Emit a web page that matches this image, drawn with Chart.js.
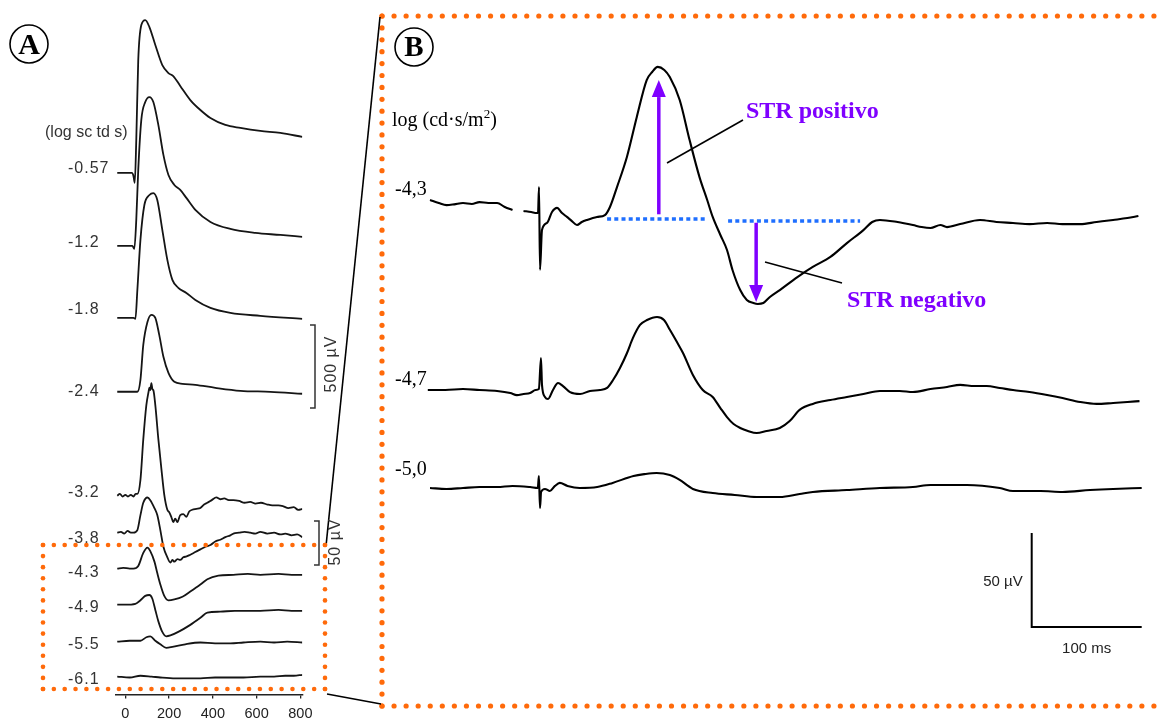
<!DOCTYPE html>
<html><head><meta charset="utf-8">
<script src="https://cdn.jsdelivr.net/npm/chart.js@4.4.1/dist/chart.umd.min.js"></script>
<style>
html,body{margin:0;padding:0;background:#fff;overflow:hidden;width:1161px;height:722px}
#wrapB{position:absolute;left:0;top:0;width:1161px;height:722px}
#wrapA{position:absolute;left:0;top:0;width:380px;height:730px}
canvas{display:block}
</style></head><body>
<div id="wrapB"><canvas id="cB" width="1161" height="722"></canvas></div>
<div id="wrapA"><canvas id="cA" width="380" height="730"></canvas></div>
<script>
// ---------------- DATA ----------------
// Panel A: ERG traces, time (ms) vs amplitude (µV); flash strengths in log sc td s
const levelsA = ['-0.57','-1.2','-1.8','-2.4','-3.2','-3.8','-4.3','-4.9','-5.5','-6.1'];
const ticksA = [0,200,400,600,800];
const trA_057 = [[-37,0],[30,0],[37,-18],[43,-60],[50,199],[59,680],[73,891],[91,921],[110,879],[137,771],[169,650],[197,602],[219,584],[251,524],[297,439],[343,379],[389,331],[457,289],[526,271],[617,253],[709,241],[809,217]];
const trA_12 = [[-37,0],[32,0],[41,-18],[50,157],[59,458],[73,759],[91,867],[110,897],[128,867],[151,728],[174,548],[197,427],[224,367],[251,337],[279,289],[320,217],[389,144],[480,102],[594,78],[709,66],[809,54]];
const trA_18 = [[-37,0],[37,0],[46,-6],[55,169],[69,470],[87,680],[110,740],[128,752],[146,710],[169,530],[192,349],[215,229],[242,181],[279,150],[320,108],[389,60],[480,30],[617,12],[809,-6]];
const trA_24 = [[-37,0],[55,0],[69,72],[82,283],[101,421],[119,464],[137,446],[155,343],[174,211],[197,114],[224,60],[261,48],[320,42],[411,24],[526,6],[663,0],[809,-12]];
const trA_32 = [[-37,0],[-25,2],[-12,-1],[0,1],[12,-1],[25,1],[37,-1],[47,2],[55,2],[69,18],[82,64],[96,103],[106,118],[110,123],[114,120],[119,128],[124,121],[128,120],[137,103],[151,64],[165,30],[178,1],[192,-16],[201,-19],[210,-24],[219,-30],[228,-26],[238,-30],[251,-22],[265,-21],[279,-24],[292,-18],[306,-16],[325,-15],[343,-14],[360,-10],[375,-8],[395,-5],[416,-2],[434,-4],[452,-3],[473,-5],[494,-5],[520,-6],[545,-8],[571,-7],[595,-9],[620,-8],[649,-10],[672,-11],[700,-11],[722,-12],[745,-14],[770,-13],[790,-16],[809,-15]];
const trA_38 = [[-37,0],[-20,1],[-5,-1],[10,2],[25,0],[37,0],[55,3],[69,20],[82,34],[101,40],[114,37],[133,28],[146,20],[160,3],[174,-16],[192,-28],[206,-34],[215,-31],[224,-33],[238,-30],[251,-31],[265,-28],[280,-27],[297,-25],[320,-22],[343,-19],[366,-16],[389,-14],[411,-10],[434,-8],[457,-5],[480,-3],[494,-1],[520,0],[545,1],[571,0],[594,-1],[617,1],[649,-1],[680,0],[709,-2],[731,-1],[760,-3],[785,-2],[809,-5]];
const trA_43 = [[-37,0],[-10,1],[20,0],[37,0],[59,3],[82,18],[101,24],[114,20],[133,8],[146,-5],[160,-18],[178,-31],[197,-36],[224,-35],[261,-32],[297,-26],[343,-18],[375,-12],[425,-8],[494,-7],[560,-6],[617,-7],[700,-6],[760,-7],[809,-7]];
const trA_49 = [[-37,0],[0,0],[46,1],[69,5],[91,10],[110,11],[123,7],[137,-6],[151,-19],[169,-31],[187,-36],[206,-35],[242,-31],[297,-23],[343,-15],[375,-9],[434,-8],[500,-7],[560,-7],[617,-7],[700,-6],[760,-7],[809,-7]];
const trA_55 = [[-37,0],[20,1],[69,1],[96,5],[114,6],[137,1],[160,-3],[187,-7],[215,-6],[274,-3],[343,-1],[410,-2],[480,-2],[540,-1],[617,0],[680,-1],[740,0],[809,-1]];
const trA_61 = [[-37,0],[20,-1],[69,1],[120,0],[160,-1],[229,-2],[290,-2],[343,-2],[410,-1],[480,-1],[540,-1],[617,0],[680,0],[731,1],[770,1],[809,2]];
const tracesA = [trA_057,trA_12,trA_18,trA_24,trA_32,trA_38,trA_43,trA_49,trA_55,trA_61];

// Panel B: three dimmest flashes, log (cd·s/m²), time (ms) vs amplitude (µV)
const levelsB = ['-4,3','-4,7','-5,0'];
const trB_43 = [[-100,10.1],[-92,8.5],[-85,7.4],[-78,7.8],[-70,8.5],[-62,8.0],[-55,9.0],[-47,8.5],[-39,8.5],[-32,6.4],[-25,4.8],[-20,null],[-15,4.3],[-8,3.7],[-3,3.2],[-1.8,3.2],[-0.9,17],[0,-27],[1.8,-5.9],[6.4,-2.1],[10.9,3.7],[15.5,5.9],[20,3.2],[24.5,1.1],[29,-1.1],[33.6,-3.2],[38,-1.6],[42.7,-0.5],[51.8,1.1],[59,2.1],[63.6,6.4],[70,17],[79,33],[88,54.3],[97,73.9],[102,78.2],[107,80.9],[113,79.3],[118,75.5],[127,63.3],[136,42],[145,22.3],[152,10.1],[157,1.1],[164,-8.5],[170,-16.5],[175,-27.1],[182,-37.8],[188,-43.1],[194,-44.7],[198,-45.2],[203,-44.7],[209,-41.5],[218,-37.8],[234,-30.9],[248,-25.5],[264,-20.2],[279,-12.8],[294,-5.9],[302,-1.6],[309,-0.5],[325,-1.6],[339,-3.2],[347,-4.3],[355,-4.8],[364,-3.2],[370,-4.3],[382,-2.7],[400,-0.5],[415,-1.6],[430,-2.1],[445,-2.7],[461,-2.1],[475,-2.7],[491,-2.7],[506,-1.6],[521,-0.5],[534,0.5],[544,1.6]];
const trB_47 = [[-102,0],[-86,0],[-70,0.5],[-55,0],[-39,-0.5],[-27,-1.6],[-21,-2.7],[-15,-2.1],[-9,-1.6],[-4,0],[-1,0.5],[0.9,17],[1.8,2.7],[4.5,-3.7],[7.3,-4.8],[11.8,0],[16.4,3.7],[20.9,2.1],[27.3,-1.1],[36.4,-2.1],[45.5,-0.5],[54.5,0],[61,1.1],[66.4,5.3],[72.7,11.7],[79.1,19.7],[84.5,27.7],[90.9,34.6],[97.3,37.2],[106.4,38.8],[112.7,37.2],[118.2,31.9],[124.5,25.5],[130,19.7],[139,8.0],[148,0],[157,-3.7],[164,-9.6],[170,-14.4],[176,-18.1],[182,-20.2],[189,-21.8],[197,-22.9],[206,-21.8],[218,-20.2],[227,-16.5],[236,-10.6],[248,-7.4],[264,-5.3],[279,-3.7],[294,-2.1],[309,-0.5],[327,-0.5],[339,-1.1],[355,0.5],[370,1.6],[382,2.7],[395,2.1],[406,2.1],[418,1.1],[430,0],[445,-1.1],[461,-2.7],[475,-4.3],[491,-6.4],[506,-7.4],[521,-6.9],[534,-6.4],[545,-5.9]];
const trB_50 = [[-100,0],[-85,-0.5],[-70,0],[-55,0.5],[-39,0.5],[-25,1.1],[-9,0.5],[-2,0],[-1,6.4],[0,-10.6],[1,-2.1],[4.5,-0.5],[9,-1.6],[13.6,1.1],[18,2.7],[25,1.1],[36,0],[52,0.5],[66,2.7],[85,6.4],[95,7.4],[106,8.0],[118,6.9],[127,4.3],[139,-0.5],[157,-2.7],[177,-3.7],[197,-4.8],[218,-4.8],[236,-3.2],[248,-2.1],[279,-1.1],[309,0],[339,0.5],[355,1.6],[388,1.6],[418,0],[430,-1.6],[455,-1.6],[475,-2.1],[500,-1.1],[521,-0.5],[547,0]];
const tracesB = [trB_43,trB_47,trB_50];
// Baseline (dotted blue) segments for the -4,3 trace
const baseSegB1 = [[61,0],[152,0]];
const baseSegB2 = [[171,-1],[291,-1]];

// ---------------- LAYOUT (positions/styles only) ----------------
const LA = {pxPerMs:0.21875, pxPerUv:0.88, axisY:695, left:115.5, xMin:-45, xMax:809,
  rows:[173,246,318,392,496,533,569,605,642,677],
  labelY:[173,247,314,396,497,543,577,612,649,684]};
const gUp = (83/500)/LA.pxPerUv;          // upper traces drawn at the 500 µV bar scale
const gainA = [gUp,gUp,gUp,gUp,1,1,1,1,1,1];
const LB = {pxPerMs:1.1, pxPerUv:1.88, x0:540, rows:[219,390,488], labelY:[195,385,475]};

const ORANGE = '#ff6a0a', PURPLE = '#7f00ff', BLUE = '#1f6fff';

function dots(ctx,x1,y1,x2,y2,sp,r){
  const L = Math.hypot(x2-x1,y2-y1), n = Math.round(L/sp);
  ctx.fillStyle = ORANGE;
  for(let i=0;i<=n;i++){const f=n?i/n:0;ctx.beginPath();ctx.arc(x1+(x2-x1)*f,y1+(y2-y1)*f,r,0,Math.PI*2);ctx.fill();}
}
function circleLabel(ctx,cx,cy,r,txt,size){
  ctx.save();ctx.lineWidth=1.6;ctx.strokeStyle='#000';ctx.beginPath();ctx.arc(cx,cy,r,0,Math.PI*2);ctx.stroke();
  ctx.fillStyle='#000';ctx.font='bold '+size+'px "Liberation Serif"';ctx.textAlign='center';ctx.textBaseline='middle';
  ctx.fillText(txt,cx,cy+2);ctx.restore();
}
function line(ctx,x1,y1,x2,y2,w,c){ctx.save();ctx.strokeStyle=c;ctx.lineWidth=w;ctx.beginPath();ctx.moveTo(x1,y1);ctx.lineTo(x2,y2);ctx.stroke();ctx.restore();}
function arrow(ctx,x,yFrom,yTo){
  const dir = Math.sign(yTo-yFrom), hl=17, hw=7;
  ctx.save();ctx.strokeStyle=PURPLE;ctx.fillStyle=PURPLE;ctx.lineWidth=3.5;
  ctx.beginPath();ctx.moveTo(x,yFrom);ctx.lineTo(x,yTo-dir*hl);ctx.stroke();
  ctx.beginPath();ctx.moveTo(x,yTo);ctx.lineTo(x-hw,yTo-dir*hl);ctx.lineTo(x+hw,yTo-dir*hl);ctx.closePath();ctx.fill();
  ctx.restore();
}

// ---------------- CHART B (full page, panel B + frame) ----------------
const offB = LB.rows.map(r => -r/LB.pxPerUv);
const dsB = tracesB.map((tr,i)=>({
  data: tr.map(([t,v])=>({x:t, y: v==null?null:offB[i]+v})),
  borderColor:'#000', borderWidth:2.1, pointRadius:0, cubicInterpolationMode:'monotone', spanGaps:false, order:1
}));
[baseSegB1,baseSegB2].forEach(seg=>dsB.push({
  data: seg.map(([t,v])=>({x:t,y:offB[0]+v})), borderColor:BLUE, borderWidth:3.5,
  borderDash:[4,3.2], borderCapStyle:'butt', pointRadius:0, order:2
}));

const pluginB = {id:'decoB', afterDatasetsDraw(chart){
  const ctx=chart.ctx, xs=chart.scales.x, ys=chart.scales.y;
  const X=t=>xs.getPixelForValue(t), Y=v=>ys.getPixelForValue(v);
  ctx.save();
  // frame of panel B
  dots(ctx,382,16,1166,16,12,2.6);
  dots(ctx,382,16,382,706,12,2.6);
  dots(ctx,382,706,1166,706,12,2.6);
  // connectors
  line(ctx,380,17,326,546,1.6,'#000');
  line(ctx,327,694,381,704,1.6,'#000');
  circleLabel(ctx,414,47,19,'B',29);
  // axis caption
  ctx.fillStyle='#000';ctx.textBaseline='alphabetic';ctx.textAlign='left';
  ctx.font='20px "Liberation Serif"';
  let x=392; const capY=126;
  ctx.fillText('log (cd·s/m',x,capY); x+=ctx.measureText('log (cd·s/m').width;
  ctx.font='13px "Liberation Serif"'; ctx.fillText('2',x,capY-8); x+=ctx.measureText('2').width;
  ctx.font='20px "Liberation Serif"'; ctx.fillText(')',x,capY);
  levelsB.forEach((l,i)=>ctx.fillText(l,395,LB.labelY[i]));
  // STR arrows derived from the -4,3 trace
  const vals = trB_43.filter(p=>p[1]!=null && p[0]>50);
  const pk = vals.reduce((a,b)=>b[1]>a[1]?b:a), tr = vals.reduce((a,b)=>b[1]<a[1]?b:a);
  arrow(ctx,X(pk[0]+1),Y(offB[0]+2.5),Y(offB[0]+pk[1]-7));
  arrow(ctx,X(tr[0]-1.5),Y(offB[0]-2),Y(offB[0]+tr[1]+1));
  line(ctx,667,163,743,120,1.6,'#000');
  line(ctx,765,262,842,283,1.6,'#000');
  ctx.fillStyle=PURPLE;ctx.font='bold 24px "Liberation Serif"';
  ctx.fillText('STR positivo',746,118);
  ctx.fillText('STR negativo',847,307);
  // scale bar 50 µV / 100 ms
  const cx=X(447), cy=Y(-333.5);
  ctx.strokeStyle='#000';ctx.lineWidth=2;ctx.beginPath();
  ctx.moveTo(cx,Y(-333.5+50));ctx.lineTo(cx,cy);ctx.lineTo(X(447+100),cy);ctx.stroke();
  ctx.fillStyle='#222';ctx.font='15px "Liberation Sans"';ctx.textAlign='right';
  ctx.fillText('50 µV',cx-9,586);
  ctx.textAlign='center';ctx.fillText('100 ms',(cx+X(547))/2,653);
  ctx.restore();
}};

new Chart(document.getElementById('cB'),{
  type:'line', data:{datasets:dsB},
  options:{responsive:false, animation:false, devicePixelRatio:1,
    layout:{padding:0},
    plugins:{legend:{display:false},tooltip:{enabled:false}},
    scales:{
      x:{type:'linear', display:false, min:-LB.x0/LB.pxPerMs, max:(1161-LB.x0)/LB.pxPerMs},
      y:{type:'linear', display:false, min:-722/LB.pxPerUv, max:0}
    }},
  plugins:[pluginB]
});

// ---------------- CHART A (panel A) ----------------
const offA = LA.rows.map(r => (LA.axisY - r)/LA.pxPerUv);
const dsA = tracesA.map((tr,i)=>({
  data: tr.map(([t,v])=>({x:t, y: offA[i]+v*gainA[i]})),
  borderColor:'#151515', borderWidth:1.8, pointRadius:0, cubicInterpolationMode:'monotone'
}));
const plotW = (LA.xMax-LA.xMin)*LA.pxPerMs;

const pluginA = {id:'decoA', afterDatasetsDraw(chart){
  const ctx=chart.ctx, ys=chart.scales.y;
  ctx.save();
  circleLabel(ctx,29,44,19,'A',30);
  ctx.fillStyle='#333';ctx.textAlign='left';ctx.textBaseline='alphabetic';
  ctx.font='16px "Liberation Sans"';
  ctx.fillText('(log sc td s)',45,137);
  ctx.letterSpacing='1px';
  levelsA.forEach((l,i)=>ctx.fillText(l,68,LA.labelY[i]));
  // amplitude scale brackets
  function bracket(x,yBottom,uV,gain){
    const yTop = ys.getPixelForValue(ys.getValueForPixel(yBottom)+uV*gain);
    ctx.strokeStyle='#333';ctx.lineWidth=1.5;ctx.beginPath();
    ctx.moveTo(x-5,yTop);ctx.lineTo(x,yTop);ctx.lineTo(x,yBottom);ctx.lineTo(x-5,yBottom);ctx.stroke();
    return yTop;
  }
  bracket(315,408,500,gUp);
  bracket(319,565,50,1);
  ctx.fillStyle='#333';ctx.font='16px "Liberation Sans"';ctx.textAlign='center';ctx.textBaseline='alphabetic';
  ctx.save();ctx.translate(336,364);ctx.rotate(-Math.PI/2);ctx.fillText('500 µV',0,0);ctx.restore();
  ctx.save();ctx.translate(340,542);ctx.rotate(-Math.PI/2);ctx.fillText('50 µV',0,0);ctx.restore();
  ctx.letterSpacing='0px';
  // zoom frame
  dots(ctx,43,545,325,545,10.8,2.3);
  dots(ctx,43,545,43,689,10.8,2.3);
  dots(ctx,43,689,325,689,10.8,2.3);
  dots(ctx,325,545,325,689,10.8,2.3);
  ctx.restore();
}};

new Chart(document.getElementById('cA'),{
  type:'line', data:{datasets:dsA},
  options:{responsive:false, animation:false, devicePixelRatio:1,
    layout:{padding:{left:LA.left, right:380-LA.left-plotW, top:0, bottom:0}},
    plugins:{legend:{display:false},tooltip:{enabled:false}},
    scales:{
      x:{type:'linear', min:LA.xMin, max:LA.xMax, position:'bottom',
        afterBuildTicks:s=>{s.ticks=ticksA.map(v=>({value:v}));},
        grid:{display:true, drawOnChartArea:false, drawTicks:true, tickLength:4, color:'#222', lineWidth:1.3},
        border:{display:true, color:'#222', width:1.5},
        ticks:{font:{family:'Liberation Sans', size:14.5}, color:'#222', padding:7, maxRotation:0, autoSkip:false}},
      y:{type:'linear', display:false, min:0, max:LA.axisY/LA.pxPerUv}
    }},
  plugins:[pluginA]
});
</script></body></html>
